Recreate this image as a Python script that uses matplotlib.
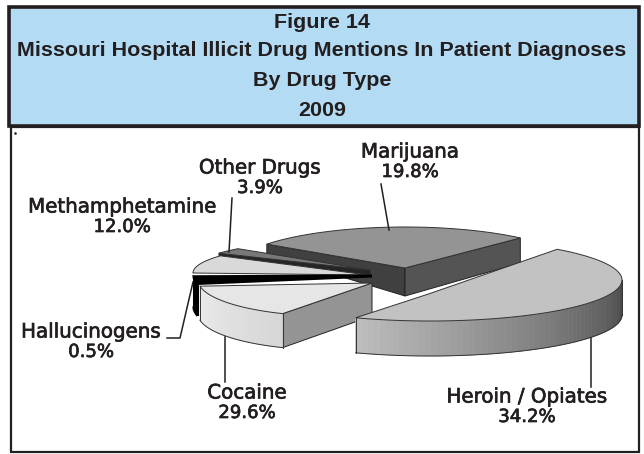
import numpy as np
import matplotlib
matplotlib.use("Agg")
import matplotlib.pyplot as plt
import matplotlib.patheffects as pe
from matplotlib.patches import Polygon, Rectangle

title_lines = ["Figure 14",
               "Missouri Hospital Illicit Drug Mentions In Patient Diagnoses",
               "By Drug Type",
               "2009"]
drugs = ["Marijuana", "Heroin / Opiates", "Cocaine", "Hallucinogens", "Methamphetamine", "Other Drugs"]
shares = [19.8, 34.2, 29.6, 0.5, 12.0, 3.9]

# perspective of the 3d pie, one entry per slice (pixels, y down)
# rim ellipse centre, radii, start angle, tip of the slice, how much the view stretches the angle
centres = [(405, 270), (430, 280), (330, 280), (331, 276), (345, 273), (345, 270)]
radii = [(173, 43), (192, 41), (132, 36), (137, 36), (152, 30), (152, 30)]
starts = [217, -48.5, 111, 168, 180, 214]
tips = [(405, 268), (430, 293.5), (372, 283), (372, 276), (368, 275), (370, 270)]
stretch = [1.33, 1.31, 0.555, 6.0, 0.81, 0.8]
depth = [0, 35, 34, 31, 0, 0]
top_grey = [0.58, 0.76, 0.90, 0.0, 0.85, 0.47]
rim_grey = [None, (0.74, 0.27), (0.84, 0.92), (0, 0), None, None]
# cut faces: slice, rim end (0 start, 1 end), depth at rim, depth at tip, grey
faces = [(0, 0, 10, 28, 0.25), (0, 1, 25, 28, 0.33), (2, 0, 34, 33, 0.58), (5, 0, 3, 4, 0.15)]
draw_order = [0, 5, 4, 3, 2, 1]

# label text centre and leader line per slice
label_pos = [(410, 152), (527, 397), (247, 393), (91, 332), (122, 207), (260, 168)]
leaders = [[(381, 184), (389, 230)], [(591, 338), (591, 387)], [(225, 337), (225, 382)],
           [(167, 338), (180, 338), (193, 282)], None, [(232, 198), (229, 252)]]

ink = "#231f20"
fig = plt.figure(figsize=(6.44, 4.54), dpi=100)
ax = fig.add_axes([0, 0, 1, 1])
ax.set_xlim(0, 644)
ax.set_ylim(454, 0)
ax.axis("off")

# frames
ax.add_patch(Rectangle((11, 127), 628, 325, fc="white", ec=ink, lw=1.6))
ax.add_patch(Rectangle((9, 7), 630, 119, fc="#b3dcf4", ec=ink, lw=2.6))
ax.plot([15], [133], marker="s", ms=0.8, color=ink)

title_y = [22, 51, 80, 110]
for line, y in zip(title_lines, title_y):
    ax.text(322, y, line, ha="center", va="center", fontsize=15.45, fontweight="bold",
            family="Liberation Sans", color=ink)


def rim(i, t):
    cx, cy = centres[i]
    rx, ry = radii[i]
    r = np.radians(t)
    return np.column_stack([cx + rx * np.cos(r), cy + ry * np.sin(r)])


for i in draw_order:
    sweep = shares[i] * 3.6 * stretch[i]
    t = np.linspace(starts[i], starts[i] + sweep, 80)
    arc = rim(i, t)
    edge = "black" if top_grey[i] == 0 else "#333333"
    lw = 2.2 if top_grey[i] == 0 else 0.7

    for s, end, d_rim, d_tip, grey in faces:
        if s == i:
            p = arc[-1] if end else arc[0]
            tip = tips[i]
            ax.add_patch(Polygon([tip, p, (p[0], p[1] + d_rim), (tip[0], tip[1] + d_tip)],
                                 fc=str(grey), ec="#222222", lw=0.7))

    if rim_grey[i] is not None:
        # outer wall, shaded strip by strip
        vis = np.linspace(max(t[0], 0), min(t[-1], 180), 60)
        pts = rim(i, vis)
        shade = np.linspace(rim_grey[i][0], rim_grey[i][1], len(vis) - 1)
        if i == 1:
            shade = shade[::-1]
        for k in range(len(vis) - 1):
            a, b = pts[k], pts[k + 1]
            ax.add_patch(Polygon([a, b, (b[0], b[1] + depth[i]), (a[0], a[1] + depth[i])],
                                 fc=str(shade[k]), ec=str(shade[k]), lw=0.5))
        ax.plot(pts[:, 0], pts[:, 1] + depth[i], color=edge, lw=lw)
        ax.plot([pts[0, 0]] * 2, [pts[0, 1], pts[0, 1] + depth[i]], color=edge, lw=lw)
        ax.plot([pts[-1, 0]] * 2, [pts[-1, 1], pts[-1, 1] + depth[i]], color=edge, lw=lw)

    ax.add_patch(Polygon(np.vstack([tips[i], arc]), fc=str(top_grey[i]), ec=edge, lw=lw))

for line in leaders:
    if line is not None:
        xs, ys = zip(*line)
        ax.plot(xs, ys, color=ink, lw=1.1)

stroke = [pe.withStroke(linewidth=0.5, foreground=ink)]
for name, share, (x, y) in zip(drugs, shares, label_pos):
    ax.text(x, y, name, ha="center", va="center", fontsize=14.3, family="DejaVu Sans",
            color=ink, path_effects=stroke)
    ax.text(x, y + 20, f"{share}%", ha="center", va="center", fontsize=13, family="DejaVu Sans",
            color=ink, path_effects=stroke)

fig.savefig("out.png", dpi=100)
